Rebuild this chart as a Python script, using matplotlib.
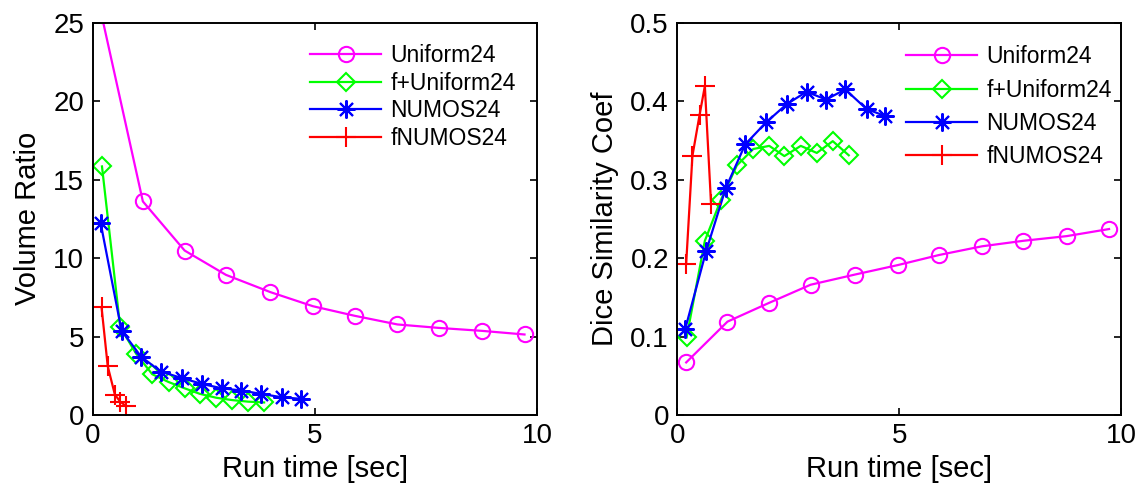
import matplotlib
matplotlib.use('Agg')
import matplotlib.pyplot as plt

plt.rcParams['font.family'] = ['Liberation Sans', 'DejaVu Sans']

# run time [sec]
t_uni = [0.2, 1.13, 2.07, 3.0, 4.0, 4.96, 5.9, 6.86, 7.79, 8.77, 9.72]
t_funi = [0.21, 0.62, 0.98, 1.34, 1.71, 2.07, 2.41, 2.78, 3.14, 3.50, 3.86]
t_numos = [0.18, 0.65, 1.09, 1.53, 2.0, 2.46, 2.91, 3.35, 3.78, 4.26, 4.68]
t_fnumos = [0.2, 0.34, 0.5, 0.62, 0.76]

# volume ratio
vr_uni = [25.5, 13.61, 10.48, 8.93, 7.83, 6.93, 6.32, 5.77, 5.55, 5.36, 5.13]
vr_funi = [15.84, 5.6, 3.9, 2.6, 2.1, 1.7, 1.35, 1.1, 0.95, 0.85, 0.8]
vr_numos = [12.23, 5.38, 3.72, 2.77, 2.36, 1.98, 1.70, 1.56, 1.35, 1.13, 1.03]
vr_fnumos = [6.87, 3.1, 1.3, 0.85, 0.55]

# dice similarity coef
dc_uni = [0.067, 0.119, 0.143, 0.166, 0.179, 0.191, 0.204, 0.215, 0.222, 0.228, 0.237]
dc_funi = [0.099, 0.222, 0.274, 0.318, 0.339, 0.343, 0.330, 0.343, 0.334, 0.349, 0.331]
dc_numos = [0.110, 0.209, 0.289, 0.345, 0.373, 0.396, 0.412, 0.402, 0.415, 0.390, 0.381]
dc_fnumos = [0.193, 0.330, 0.382, 0.419, 0.269]

names = ['Uniform24', 'f+Uniform24', 'NUMOS24', 'fNUMOS24']
colors = ['#ff00ff', '#00ff00', '#0000ff', '#ff0000']

fig = plt.figure(figsize=(11.41, 4.91), dpi=100)
ax1 = fig.add_axes([0.0812, 0.1548, 0.3894, 0.799])
ax2 = fig.add_axes([0.5936, 0.1548, 0.3893, 0.799])


def draw(ax, ys):
    ts = [t_uni, t_funi, t_numos, t_fnumos]
    mk = [dict(marker='o', ms=11, mfc='none', mew=1.5),
          dict(marker='D', ms=9.5, mfc='none', mew=1.5),
          dict(marker=(8, 2, 0), ms=13, mew=1.5),
          dict(marker='+', ms=14, mew=1.5)]
    for t, y, c, n, m in zip(ts, ys, colors, names, mk):
        ax.plot(t, y, color=c, lw=1.6, label=n, mec=c, clip_on=True, **m)
    ax.set_xlim(0, 10)
    ax.set_xticks([0, 5, 10])
    ax.set_xticklabels(['0', '5', '10'])
    ax.set_xlabel('Run time [sec]', fontsize=21, labelpad=4)
    ax.tick_params(direction='in', top=True, right=True, length=5, width=1.2,
                   labelsize=20, pad=6)
    for s in ax.spines.values():
        s.set_linewidth(1.4)


draw(ax1, [vr_uni, vr_funi, vr_numos, vr_fnumos])
ax1.set_ylim(0, 25)
ax1.set_yticks([0, 5, 10, 15, 20, 25])
ax1.set_yticklabels(['0', '5', '10', '15', '20', '25'])
ax1.set_ylabel('Volume Ratio', fontsize=21, labelpad=8)
ax1.legend(loc='upper left', bbox_to_anchor=(0.49, 0.945), frameon=False,
           fontsize=16.5, handlelength=3.1, handletextpad=0.4,
           labelspacing=0.2, borderpad=0, borderaxespad=0)

draw(ax2, [dc_uni, dc_funi, dc_numos, dc_fnumos])
ax2.set_ylim(0, 0.5)
ax2.set_yticks([0, 0.1, 0.2, 0.3, 0.4, 0.5])
ax2.set_yticklabels(['0', '0.1', '0.2', '0.3', '0.4', '0.5'])
ax2.set_ylabel('Dice Similarity Coef', fontsize=21, labelpad=8)
ax2.legend(loc='upper left', bbox_to_anchor=(0.515, 0.942), frameon=False,
           fontsize=16.5, handlelength=3.1, handletextpad=0.4,
           labelspacing=0.45, borderpad=0, borderaxespad=0)

fig.savefig('out.png', dpi=100)
